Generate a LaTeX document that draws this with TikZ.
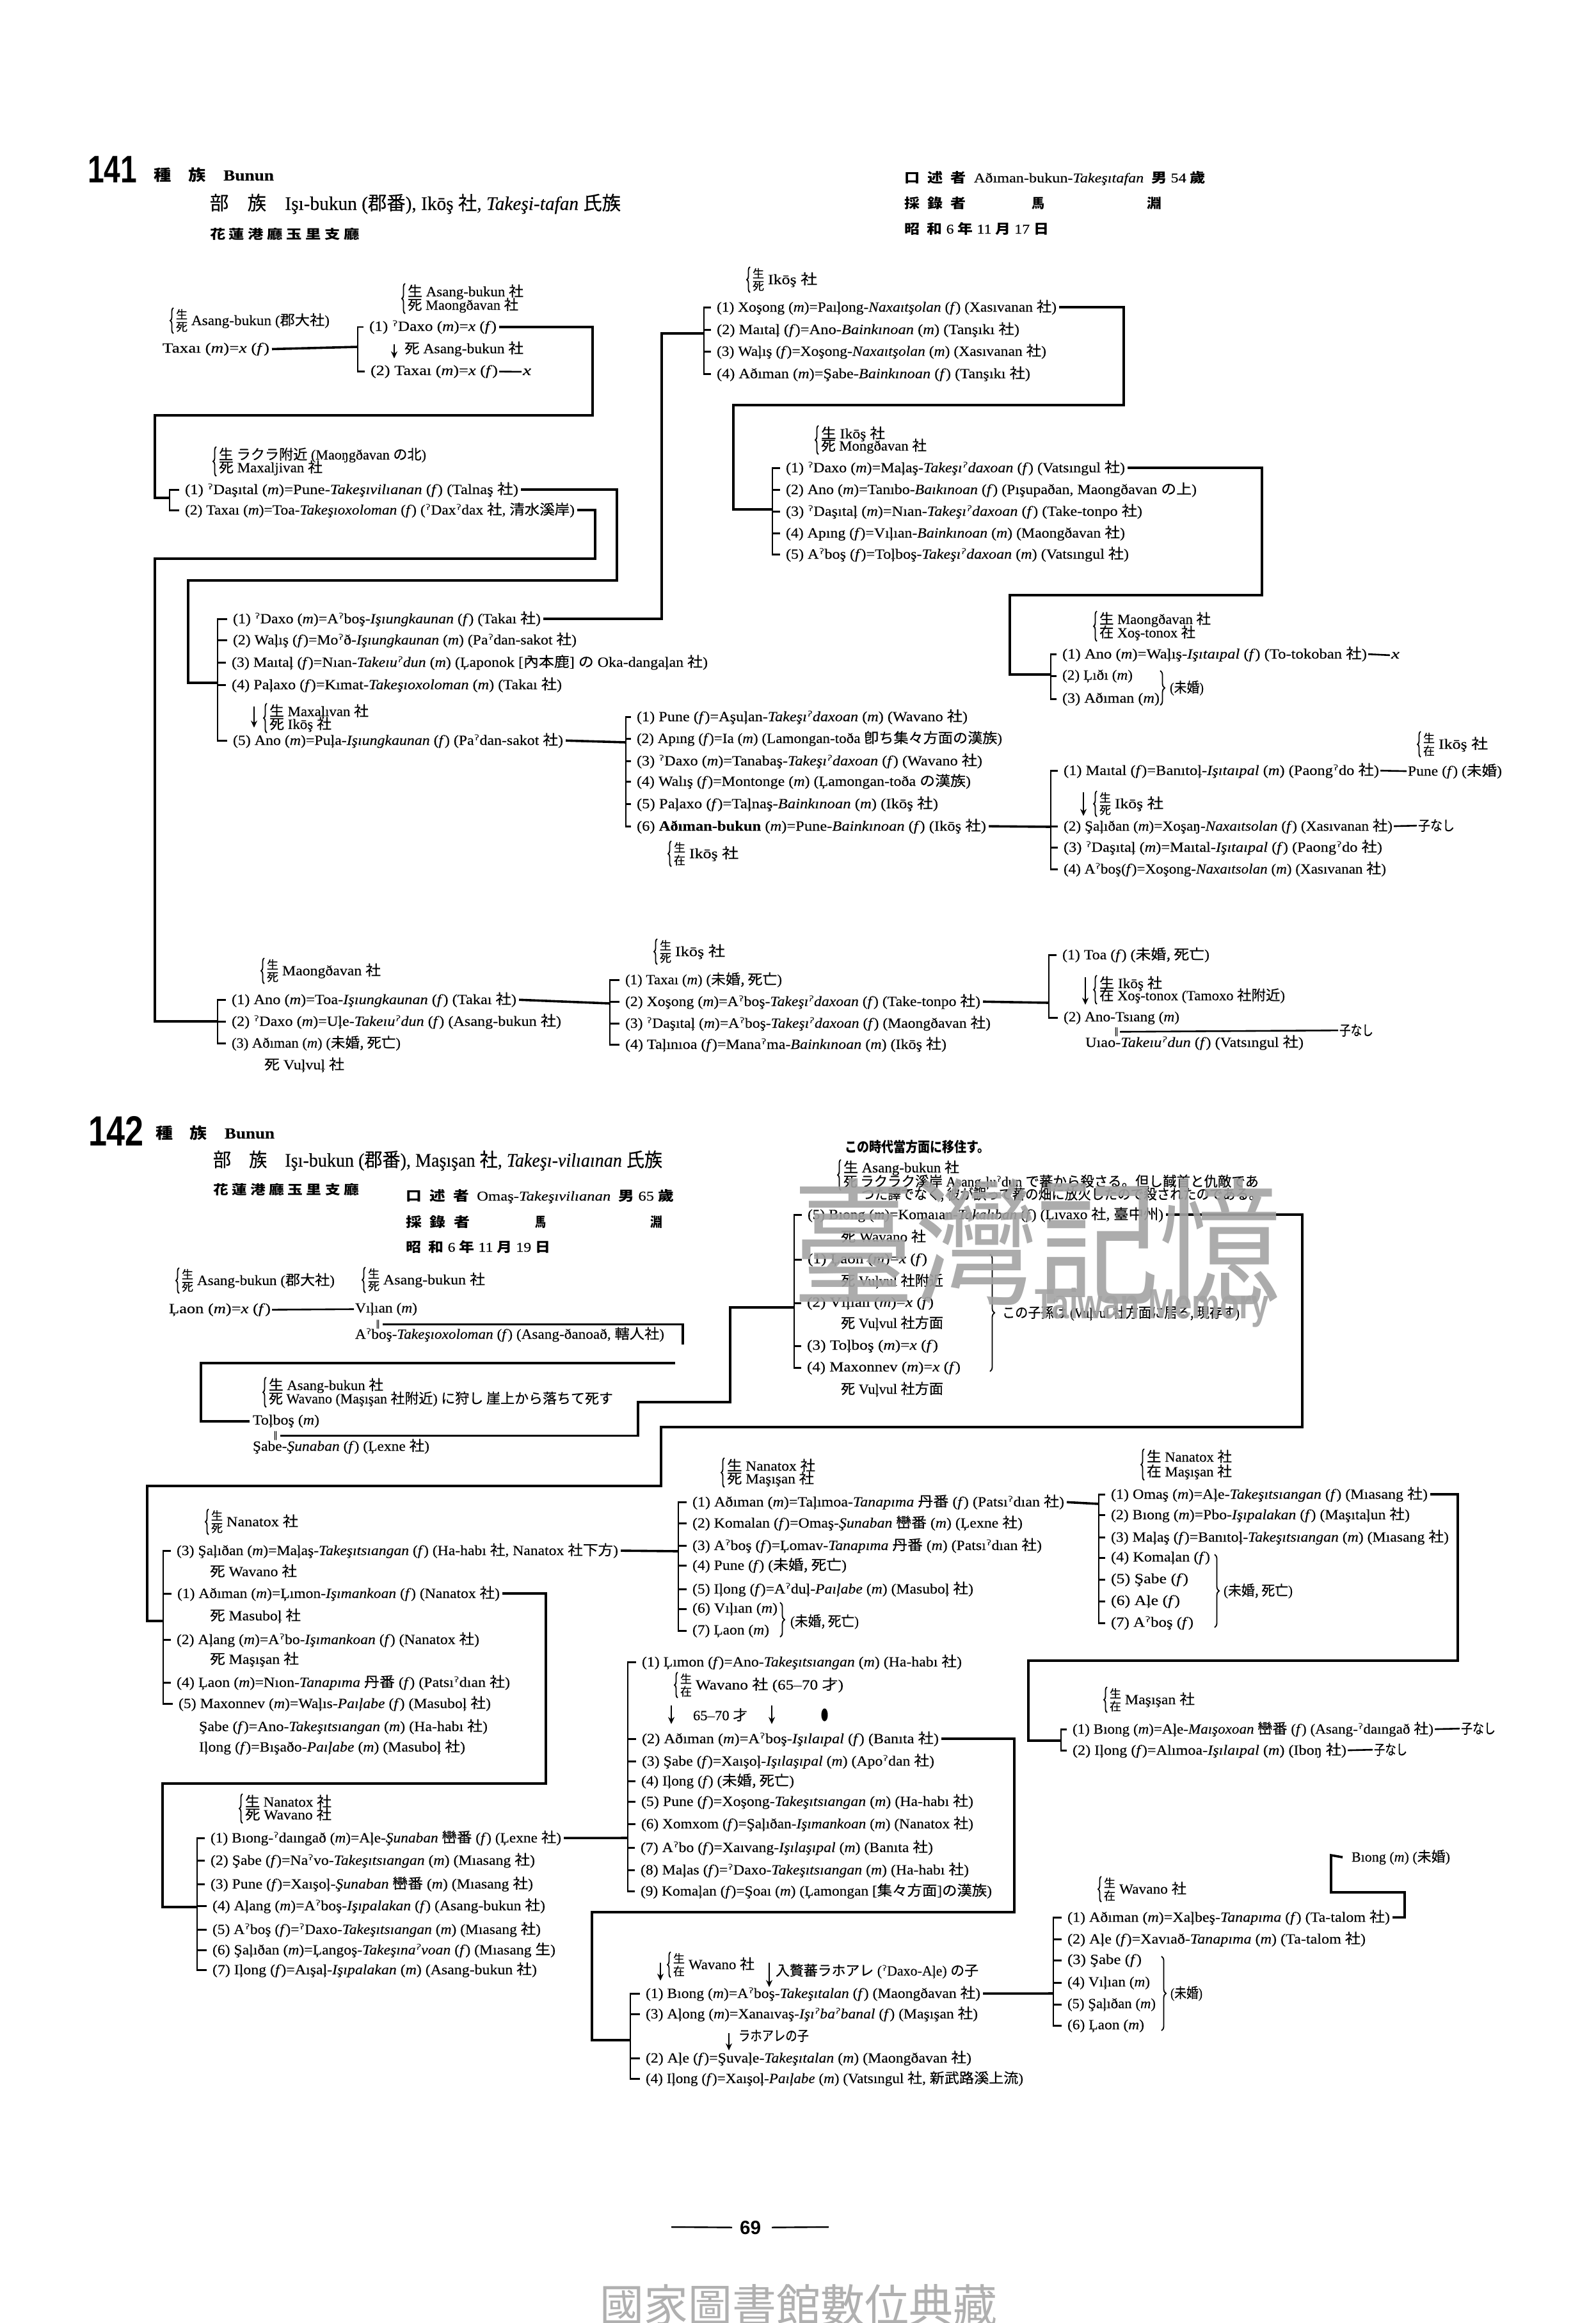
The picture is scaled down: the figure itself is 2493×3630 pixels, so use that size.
\documentclass[tikz,border=0pt]{standalone}
\usepackage{fontspec}
\usepackage{graphicx}
\setmainfont{Liberation Serif}[FakeBold=0.3]
\newfontfamily\cjk{Noto Sans CJK JP}[FakeBold=0.35]
\newfontfamily\cjp{Noto Sans CJK JP}
\newfontfamily\ipafont{DejaVu Sans}
\newfontfamily\heavyfont{Liberation Sans}
\usetikzlibrary{decorations.pathreplacing,arrows.meta}
\newcommand\fs[1]{\fontsize{#1}{#1}\selectfont}
\newcommand\cj[1]{{\cjk #1}}
\newcommand\cjb[1]{{\cjp\bfseries #1}}
\newcommand\she{{\cjk 社}}
\newcommand\gs{{\ipafont ˀ}}
\newcommand\pM{(\textit{m})}
\newcommand\pF{(\textit{f})}
\newcommand\tk[1]{\textit{#1}}
\newcommand\twopb{}
\tikzset{
  txt/.style={anchor=base west,inner sep=0pt,outer sep=0pt,yshift=-7pt,font=\fs{22}\rmfamily,text=black},
  stk/.style={anchor=center,inner sep=0pt,outer sep=0pt,font=\fs{18}\cjk,text=black},
  conn/.style={draw=black,line width=3.6pt,line join=miter,shorten <=4pt},
  thinc/.style={draw=black,line width=2.6pt,shorten <=2pt,shorten >=2pt},
  brk/.style={draw=black,line width=2.8pt,line join=miter},
  lbr/.style={draw=black,line width=1.8pt,decorate,decoration={brace,amplitude=5pt}},
  rbr/.style={draw=black,line width=1.8pt,decorate,decoration={brace,amplitude=7pt}},
  arr/.style={draw=black,line width=2.8pt,-{Stealth[length=11pt,width=10pt]}},
}
\newcommand\rw[5]{\node[txt] (#1) at (#2,#3) {\resizebox{\the\numexpr#4-(#2)\relax pt}{\height}{#5}};}
\newcommand\onep[7]{%
  \draw[lbr] ({#2+7},{#3+20}) -- ({#2+7},{#3-20});
  \node[stk] (#1a) at ({#2+20},{#3-10}) {#4};
  \node[stk] (#1b) at ({#2+20},{#3+10}) {#5};
  \rw{#1c}{#2+35}{#3}{#6}{#7}}
\newcommand\twop[9]{%
  \draw[lbr] ({#2+7},{#7+13}) -- ({#2+7},{#3-13});
  \rw{#1t}{#2+11}{#3}{#5}{\cj{#4} #6}
  \rw{#1b}{#2+11}{#7}{#9}{\twopb}}
\newcommand\darr[4]{\coordinate (#1s) at (#2,#3); \coordinate (#1e) at (#2,#4); \draw[arr] (#1s) -- (#1e);}
\newcommand\bk[2]{\foreach \rr in {#2} {\draw[brk] (#1) |- ([xshift=-9pt]\rr.west);}}
\begin{document}
\begin{tikzpicture}[x=1pt,y=-1pt]
\useasboundingbox (0,0) rectangle (2493,3630);
\fill[white] (0,0) rectangle (2493,3630);
%% ---------- 141 header
\node[txt,yshift=-14pt] (h141) at (137,264) {\resizebox{77pt}{\height}{\fs{60}\heavyfont\bfseries 141}};
\rw{h141b}{240}{275}{428}{\fs{24}\cjb{種}\quad\cjb{族}\quad\textbf{Bunun}}
\rw{h141c}{328}{321}{970}{\fs{30}\cj{部}\quad\cj{族}\quad Işı-bukun (\cj{郡番}), Ikōş \she, \tk{Takeşi-tafan} \cj{氏族}}
\rw{h141d}{328}{366}{562}{\fs{20}\cjb{花 蓮 港 廳 玉 里 支 廳}}
\rw{h141e}{1413}{278}{1884}{\fs{21}\cjb{口}\enspace\cjb{述}\enspace\cjb{者}\enspace Aðıman-bukun-\tk{Takeşıtafan}\enspace\cjb{男} 54 \cjb{歲}}
\rw{h141f}{1413}{318}{1509}{\fs{21}\cjb{採}\enspace\cjb{錄}\enspace\cjb{者}}
\rw{h141g}{1612}{318}{1632}{\fs{21}\cjb{馬}}
\rw{h141h}{1792}{318}{1815}{\fs{21}\cjb{淵}}
\rw{h141i}{1413}{358}{1639}{\fs{21}\cjb{昭}\enspace\cjb{和} 6 \cjb{年} 11 \cjb{月} 17 \cjb{日}}
%% ---------- group A
\onep{a0}{264}{501}{生}{死}{515}{Asang-bukun (\cj{郡大社})}
\rw{a1}{254}{544}{421}{Taxaı \pM=\tk{x} \pF}
\coordinate (bkA) at (559,542);
\renewcommand\twopb{\cj{死} Maongðavan \she}
\twop{a2}{626}{456}{生}{818}{Asang-bukun \she}{477}{}{810}
\rw{a3}{577}{510}{776}{(1) \gs Daxo \pM=\tk{x} \pF}
\darr{aa}{616}{538}{560}
\rw{a4}{632}{545}{818}{\cj{死} Asang-bukun \she}
\rw{a5}{579}{579}{778}{(2) Taxaı \pM=\tk{x} \pF}
\rw{a6}{817}{579}{830}{\tk{x}}
\draw[conn] (a1.east) -- (bkA);
\bk{bkA}{a3,a5}
\draw[thinc] (a5.east) -- (a6.west);
%% ---------- group B
\renewcommand\twopb{\cj{死} Maxaljivan \she}
\twop{b0}{331}{711}{生}{666}{\cj{ラクラ附近} (Maoŋgðavan \cj{の北})}{731}{}{504}
\coordinate (bkB) at (265,778);
\rw{b1}{289}{765}{810}{(1) \gs Daşıtal \pM=Pune-\tk{Takeşıvilıanan} \pF\ (Talnaş \she)}
\rw{b2}{289}{797}{898}{(2) Taxaı \pM=Toa-\tk{Takeşıoxoloman} \pF\ (\gs Dax\gs dax \she, \cj{清水溪岸})}
\bk{bkB}{b1,b2}
\draw[conn] (a3.east) -| (926,649) -| (242,778) -- (bkB);
%% ---------- group C
\coordinate (bkC) at (340,1067);
\rw{c1}{364}{967}{845}{(1) \gs Daxo \pM=A\gs boş-\tk{Işıungkaunan} \pF\ (Takaı \she)}
\rw{c2}{364}{1000}{901}{(2) Waļış \pF=Mo\gs ð-\tk{Işıungkaunan} \pM\ (Pa\gs dan-sakot \she)}
\rw{c3}{362}{1035}{1106}{(3) Maıtaļ \pF=Nıan-\tk{Takeıu\gs dun} \pM\ (Ļaponok [\cj{內本鹿}] \cj{の} Oka-dangaļan \she)}
\rw{c4}{362}{1070}{878}{(4) Paļaxo \pF=Kımat-\tk{Takeşıoxoloman} \pM\ (Takaı \she)}
\darr{cc}{397}{1104}{1137}
\renewcommand\twopb{\cj{死} Ikōş \she}
\twop{c6}{410}{1112}{生}{576}{Maxaļıvan \she}{1132}{}{518}
\rw{c5}{364}{1157}{880}{(5) Ano \pM=Puļa-\tk{Işıungkaunan} \pF\ (Pa\gs dan-sakot \she)}
\bk{bkC}{c1,c2,c3,c4,c5}
\draw[conn] (b1.east) -| (964,907) -| (294,1067) -- (bkC);
%% ---------- group D
\coordinate (bkD) at (340,1596);
\onep{d0}{406}{1517}{生}{死}{595}{Maongðavan \she}
\rw{d1}{362}{1562}{807}{(1) Ano \pM=Toa-\tk{Işıungkaunan} \pF\ (Takaı \she)}
\rw{d2}{362}{1596}{877}{(2) \gs Daxo \pM=Uļe-\tk{Takeıu\gs dun} \pF\ (Asang-bukun \she)}
\rw{d3}{362}{1630}{626}{(3) Aðıman \pM\ (\cj{未婚, 死亡})}
\rw{d4}{413}{1664}{538}{\cj{死} Vuļvuļ \she}
\bk{bkD}{d1,d2,d3}
\draw[conn] (b2.east) -| (930,873) -| (242,1596) -- (bkD);
%% ---------- group E
\coordinate (bkE) at (1100,521);
\onep{e0}{1165}{437}{生}{死}{1277}{Ikōş \she}
\rw{e1}{1120}{480}{1651}{(1) Xoşong \pM=Paıļong-\tk{Naxaıtşolan} \pF\ (Xasıvanan \she)}
\rw{e2}{1120}{515}{1593}{(2) Maıtaļ \pF=Ano-\tk{Bainkınoan} \pM\ (Tanşıkı \she)}
\rw{e3}{1120}{549}{1635}{(3) Waļış \pF=Xoşong-\tk{Naxaıtşolan} \pM\ (Xasıvanan \she)}
\rw{e4}{1120}{584}{1610}{(4) Aðıman \pM=Şabe-\tk{Bainkınoan} \pF\ (Tanşıkı \she)}
\bk{bkE}{e1,e2,e3,e4}
\draw[conn] (c1.east) -| (1034,521) -- (bkE);
%% ---------- group F
\coordinate (bkF) at (1207,796);
\renewcommand\twopb{\cj{死} Mongðavan \she}
\twop{f0}{1272}{678}{生}{1383}{Ikōş \she}{697}{}{1448}
\rw{f1}{1228}{731}{1758}{(1) \gs Daxo \pM=Maļaş-\tk{Takeşı\gs daxoan} \pF\ (Vatsıngul \she)}
\rw{f2}{1228}{765}{1870}{(2) Ano \pM=Tanıbo-\tk{Baıkınoan} \pF\ (Pışupaðan, Maongðavan \cj{の上})}
\rw{f3}{1228}{799}{1785}{(3) \gs Daşıtaļ \pM=Nıan-\tk{Takeşı\gs daxoan}\ \pF\ (Take-tonpo \she)}
\rw{f4}{1228}{833}{1758}{(4) Apıng \pF=Vıļıan-\tk{Bainkınoan} \pM\ (Maongðavan \she)}
\rw{f5}{1228}{866}{1764}{(5) A\gs boş \pF=Toļboş-\tk{Takeşı\gs daxoan} \pM\ (Vatsıngul \she)}
\bk{bkF}{f1,f2,f3,f4,f5}
\draw[conn] (e1.east) -| (1756,633) -| (1146,796) -- (bkF);
%% ---------- group G
\coordinate (bkG) at (1642,1054);
\renewcommand\twopb{\cj{在} Xoş-tonox \she}
\twop{g0}{1707}{968}{生}{1892}{Maongðavan \she}{989}{}{1868}
\rw{g1}{1660}{1022}{2136}{(1) Ano \pM=Waļış-\tk{Işıtaıpal} \pF\ (To-tokoban \she)}
\rw{g1x}{2174}{1022}{2187}{\tk{x}}
\rw{g2}{1660}{1055}{1770}{(2) Ļıðı \pM}
\rw{g3}{1660}{1091}{1812}{(3) Aðıman \pM}
\draw[rbr] (1813,1048) -- (1813,1102);
\rw{g4}{1828}{1075}{1881}{(\cj{未婚})}
\bk{bkG}{g1,g2,g3}
\draw[thinc] (g1.east) -- (g1x.west);
\draw[conn] (f1.east) -| (1972,930) -| (1578,1054) -- (bkG);
%% ---------- group H
\coordinate (bkH) at (978,1160);
\rw{h1}{995}{1120}{1512}{(1) Pune \pF=Aşuļan-\tk{Takeşı\gs daxoan} \pM\ (Wavano \she)}
\rw{h2}{995}{1154}{1566}{(2) Apıng \pF=Ia \pM\ (Lamongan-toða \cj{卽ち集々方面の漢族})}
\rw{h3}{995}{1189}{1535}{(3) \gs Daxo \pM=Tanabaş-\tk{Takeşı\gs daxoan} \pF\ (Wavano \she)}
\rw{h4}{995}{1221}{1517}{(4) Walış \pF=Montonge \pM\ (Ļamongan-toða \cj{の漢族})}
\rw{h5}{995}{1256}{1466}{(5) Paļaxo \pF=Taļnaş-\tk{Bainkınoan} \pM\ (Ikōş \she)}
\rw{h6}{995}{1291}{1541}{(6) \textbf{Aðıman-bukun} \pM=Pune-\tk{Bainkınoan} \pF\ (Ikōş \she)}
\onep{h0}{1042}{1334}{生}{在}{1154}{Ikōş \she}
\bk{bkH}{h1,h2,h3,h4,h5,h6}
\draw[conn] (c5.east) -- (bkH);
%% ---------- group I
\coordinate (bkI) at (1642,1292);
\onep{i0}{2213}{1163}{生}{在}{2325}{Ikōş \she}
\rw{i1}{1662}{1204}{2155}{(1) Maıtal \pF=Banıtoļ-\tk{Işıtaıpal} \pM\ (Paong\gs do \she)}
\rw{i1x}{2200}{1205}{2347}{Pune \pF\ (\cj{未婚})}
\darr{ia}{1693}{1238}{1275}
\onep{i5}{1707}{1256}{生}{死}{1818}{Ikōş \she}
\rw{i2}{1662}{1291}{2176}{(2) Şaļıðan \pM=Xoşaŋ-\tk{Naxaıtsolan} \pF\ (Xasıvanan \she)}
\rw{i2x}{2216}{1291}{2273}{\cj{子なし}}
\rw{i3}{1662}{1324}{2160}{(3) \gs Daşıtaļ \pM=Maıtal-\tk{Işıtaıpal} \pF\ (Paong\gs do \she)}
\rw{i4}{1662}{1358}{2166}{(4) A\gs boş\pF=Xoşong-\tk{Naxaıtsolan} \pM\ (Xasıvanan \she)}
\bk{bkI}{i1,i2,i3,i4}
\draw[thinc] (i1.east) -- (i1x.west);
\draw[thinc] (i2.east) -- (i2x.west);
\draw[conn] (h6.east) -- (bkI);
%% ---------- group J
\coordinate (bkJ) at (953,1568);
\onep{j0}{1020}{1487}{生}{死}{1133}{Ikōş \she}
\rw{j1}{977}{1531}{1222}{(1) Taxaı \pM\ (\cj{未婚, 死亡})}
\rw{j2}{977}{1565}{1532}{(2) Xoşong \pM=A\gs boş-\tk{Takeşı\gs daxoan} \pF\ (Take-tonpo \she)}
\rw{j3}{977}{1599}{1548}{(3) \gs Daşıtaļ \pM=A\gs boş-\tk{Takeşı\gs daxoan} \pF\ (Maongðavan \she)}
\rw{j4}{977}{1632}{1479}{(4) Taļınıoa \pF=Mana\gs ma-\tk{Bainkınoan} \pM\ (Ikōş \she)}
\bk{bkJ}{j1,j2,j3,j4}
\draw[conn] (d1.east) -- (bkJ);
%% ---------- group K
\coordinate (bkK) at (1639,1567);
\rw{k1}{1660}{1492}{1890}{(1) Toa \pF\ (\cj{未婚, 死亡})}
\darr{ka}{1696}{1527}{1570}
\renewcommand\twopb{\cj{在} Xoş-tonox (Tamoxo \cj{社附近})}
\twop{k0}{1707}{1537}{生}{1816}{Ikōş \she}{1556}{}{2008}
\rw{k2}{1662}{1589}{1843}{(2) Ano-Tsıang \pM}
\node[txt,font=\fs{14}\ipafont] (k3) at (1741,1609) {‖};
\rw{k4}{2093}{1611}{2146}{\cj{子なし}}
\rw{k5}{1696}{1629}{2037}{Uıao-\tk{Takeıu\gs dun} \pF\ (Vatsıngul \she)}
\bk{bkK}{k1,k2}
\draw[thinc] (k3.east) -- (k4.west);
\draw[conn] (j2.east) -- (bkK);
%% ---------- 142 header
\node[txt,yshift=-16pt] (h142) at (138,1767) {\resizebox{87pt}{\height}{\fs{66}\heavyfont\bfseries 142}};
\rw{h142b}{243}{1772}{429}{\fs{24}\cjb{種}\quad\cjb{族}\quad\textbf{Bunun}}
\rw{h142c}{333}{1816}{1035}{\fs{30}\cj{部}\quad\cj{族}\quad Işı-bukun (\cj{郡番}), Maşışan \she, \tk{Takeşı-vilıaınan} \cj{氏族}}
\rw{h142d}{333}{1859}{561}{\fs{20}\cjb{花 蓮 港 廳 玉 里 支 廳}}
\rw{h142e}{634}{1869}{1053}{\fs{21}\cjb{口}\enspace\cjb{述}\enspace\cjb{者}\enspace Omaş-\tk{Takeşıvilıanan}\enspace\cjb{男} 65 \cjb{歲}}
\rw{h142f}{634}{1910}{734}{\fs{21}\cjb{採}\enspace\cjb{錄}\enspace\cjb{者}}
\rw{h142g}{836}{1910}{853}{\fs{21}\cjb{馬}}
\rw{h142h}{1016}{1910}{1035}{\fs{21}\cjb{淵}}
\rw{h142i}{634}{1949}{860}{\fs{21}\cjb{昭}\enspace\cjb{和} 6 \cjb{年} 11 \cjb{月} 19 \cjb{日}}
%% ---------- group L (142 start)
\onep{l0}{273}{2001}{生}{死}{523}{Asang-bukun (\cj{郡大社})}
\onep{l1}{564}{2000}{生}{死}{758}{Asang-bukun \she}
\rw{l2}{264}{2045}{423}{Ļaon \pM=\tk{x} \pF}
\rw{l3}{555}{2044}{652}{Vıļıan \pM}
\node[txt,font=\fs{14}\ipafont] (l4) at (587,2066) {‖};
\rw{l5}{555}{2085}{1038}{A\gs boş-\tk{Takeşıoxoloman} \pF\ (Asang-ðanoað, \cj{轄人社})}
\draw[thinc] (l2.east) -- (l3.west);
\coordinate (l6) at (1067,2101);
\draw[conn] (l4.east) -| (l6);
\coordinate (l7) at (1059,2130);
\renewcommand\twopb{\cj{死} Wavano (Maşışan \cj{社附近}) \cj{に狩し 崖上から落ちて死す}}
\twop{m0}{409}{2165}{生}{599}{Asang-bukun \she}{2186}{}{958}
\rw{m1}{395}{2219}{499}{Toļboş \pM}
\node[txt,font=\fs{14}\ipafont] (m2) at (427,2240) {‖};
\rw{m3}{395}{2260}{671}{Şabe-\tk{Şunaban} \pF\ (Ļexne \she)}
\draw[conn] (l7) -- (314,2130) |- ([xshift=-5pt]m1.west);
%% ---------- group Q
\coordinate (bkQ) at (1241,2043);
\rw{q0}{1320}{1793}{1547}{\cjb{この時代當方面に移住す。}}
\renewcommand\twopb{\cj{死 ラクラク溪岸} Asang-ļu\gs dun \cj{で蕃から殺さる。但し馘首と仇敵であ}}
\twop{q1}{1307}{1825}{生}{1499}{Asang-bukun \she}{1847}{}{1967}
\rw{q2}{1346}{1867}{1972}{\cj{つた譯でなく, 彼が誤って蕃の畑に放火したので殺されたのである。}}
\rw{q3}{1262}{1898}{1818}{(5) Bıong \pM=Komaıan-\tk{Takalıban} \pF\ (Ļıvaxo \she, \cj{臺中州})}
\rw{q4}{1314}{1933}{1447}{\cj{死} Wavano \she}
\rw{q5}{1262}{1967}{1449}{(1) Ļaon \pM=\tk{x} \pF}
\rw{q6}{1314}{2002}{1474}{\cj{死} Vuļvul \cj{社附近}}
\rw{q7}{1261}{2035}{1459}{(2) Vıļıan \pM=\tk{x} \pF}
\rw{q8}{1314}{2068}{1474}{\cj{死} Vuļvul \cj{社方面}}
\rw{q9}{1261}{2102}{1466}{(3) Toļboş \pM=\tk{x} \pF}
\rw{q10}{1261}{2136}{1501}{(4) Maxonnev \pM=\tk{x} \pF}
\rw{q11}{1314}{2171}{1474}{\cj{死} Vuļvul \cj{社方面}}
\draw[rbr] (1547,1960) -- (1547,2143);
\rw{q12}{1566}{2052}{1937}{\cj{この子孫は} (Vuļvul \cj{社方面に居る, 現存す})}
\bk{bkQ}{q3,q5,q7,q9,q10}
\draw[conn] (m2.east) -| (997,2191) -| (1141,2043) -- (bkQ);
%% ---------- group R
\coordinate (bkR) at (255,2533);
\onep{r0}{319}{2378}{生}{死}{466}{Nanatox \she}
\rw{r1}{276}{2423}{966}{(3) Şaļıðan \pM=Maļaş-\tk{Takeşıtsıangan} \pF\ (Ha-habı \she, Nanatox \cj{社下方})}
\rw{r2}{328}{2456}{464}{\cj{死} Wavano \she}
\rw{r3}{277}{2490}{781}{(1) Aðıman \pM=Ļımon-\tk{Işımankoan} \pF\ (Nanatox \she)}
\rw{r4}{328}{2525}{470}{\cj{死} Masuboļ \she}
\rw{r5}{276}{2562}{749}{(2) Aļang \pM=A\gs bo-\tk{Işımankoan} \pF\ (Nanatox \she)}
\rw{r6}{328}{2593}{467}{\cj{死} Maşışan \she}
\rw{r7}{276}{2629}{797}{(4) Ļaon \pM=Nıon-\tk{Tanapıma} \cj{丹番} \pF\ (Patsı\gs dıan \she)}
\rw{r8}{279}{2662}{767}{(5) Maxonnev \pM=Waļıs-\tk{Paıļabe} \pF\ (Masuboļ \she)}
\rw{r9}{311}{2698}{762}{Şabe \pF=Ano-\tk{Takeşıtsıangan} \pM\ (Ha-habı \she)}
\rw{r10}{311}{2730}{727}{Iļong \pF=Bışaðo-\tk{Paıļabe} \pM\ (Masuboļ \she)}
\bk{bkR}{r1,r3,r5,r7,r8}
\draw[conn] (q3.east) -| (2035,2230) -| (1033,2322) -| (230,2533) -- (bkR);
%% ---------- group S
\coordinate (bkS) at (1060,2424);
\renewcommand\twopb{\cj{死} Maşışan \she}
\twop{s0}{1125}{2291}{生}{1274}{Nanatox \she}{2311}{}{1272}
\rw{s1}{1082}{2347}{1663}{(1) Aðıman \pM=Taļımoa-\tk{Tanapıma} \cj{丹番} \pF\ (Patsı\gs dıan \she)}
\rw{s2}{1082}{2380}{1598}{(2) Komalan \pF=Omaş-\tk{Şunaban} \cj{巒番} \pM\ (Ļexne \she)}
\rw{s3}{1082}{2415}{1628}{(3) A\gs boş \pF=Ļomav-\tk{Tanapıma} \cj{丹番} \pM\ (Patsı\gs dıan \she)}
\rw{s4}{1082}{2446}{1323}{(4) Pune \pF\ (\cj{未婚, 死亡})}
\rw{s5}{1082}{2483}{1521}{(5) Iļong \pF=A\gs duļ-\tk{Paıļabe} \pM\ (Masuboļ \she)}
\rw{s6}{1082}{2513}{1215}{(6) Vıļıan \pM}
\rw{s7}{1082}{2547}{1202}{(7) Ļaon \pM}
\draw[rbr] (1219,2504) -- (1219,2558);
\rw{s8}{1235}{2534}{1342}{(\cj{未婚, 死亡})}
\bk{bkS}{s1,s2,s3,s4,s5,s6,s7}
\draw[conn] (r1.east) -- (bkS);
%% ---------- group T
\coordinate (bkT) at (1717,2350);
\renewcommand\twopb{\cj{在} Maşışan \she}
\twop{t0}{1781}{2277}{生}{1925}{Nanatox \she}{2300}{}{1925}
\rw{t1}{1736}{2335}{2231}{(1) Omaş \pM=Aļe-\tk{Takeşıtsıangan} \pF\ (Mıasang \she)}
\rw{t2}{1736}{2367}{2203}{(2) Bıong \pM=Pbo-\tk{Işıpalakan} \pF\ (Maşıtaļun \she)}
\rw{t3}{1736}{2402}{2264}{(3) Maļaş \pF=Banıtoļ-\tk{Takeşıtsıangan} \pM\ (Mıasang \she)}
\rw{t4}{1736}{2433}{1891}{(4) Komaļan \pF}
\rw{t5}{1736}{2467}{1857}{(5) Şabe \pF}
\rw{t6}{1736}{2501}{1844}{(6) Aļe \pF}
\rw{t7}{1736}{2535}{1865}{(7) A\gs boş \pF}
\draw[rbr] (1898,2429) -- (1898,2543);
\rw{t8}{1912}{2486}{2020}{(\cj{未婚, 死亡})}
\bk{bkT}{t1,t2,t3,t4,t5,t6,t7}
\draw[conn] (s1.east) -- (bkT);
%% ---------- group U
\coordinate (bkU) at (1658,2720);
\onep{u0}{1723}{2656}{生}{在}{1867}{Maşışan \she}
\rw{u1}{1676}{2702}{2240}{(1) Bıong \pM=Aļe-\tk{Maışoxoan} \cj{巒番} \pF\ (Asang-\gs daıngað \she)}
\rw{u1x}{2283}{2702}{2337}{\cj{子なし}}
\rw{u2}{1676}{2735}{2104}{(2) Iļong \pF=Alımoa-\tk{Işılaıpal} \pM\ (Iboŋ \she)}
\rw{u2x}{2147}{2735}{2199}{\cj{子なし}}
\bk{bkU}{u1,u2}
\draw[thinc] (u1.east) -- (u1x.west);
\draw[thinc] (u2.east) -- (u2x.west);
\draw[conn] (t1.east) -| (2278,2595) -| (1607,2720) -- (bkU);
%% ---------- group V
\coordinate (bkVb) at (308,2980);
\renewcommand\twopb{\cj{死} Wavano \she}
\twop{v0}{372}{2816}{生}{518}{Nanatox \she}{2836}{}{518}
\rw{v1}{329}{2872}{877}{(1) Bıong-\gs daıngað \pM=Aļe-\tk{Şunaban} \cj{巒番} \pF\ (Ļexne \she)}
\rw{v2}{329}{2907}{836}{(2) Şabe \pF=Na\gs vo-\tk{Takeşıtsıangan} \pM\ (Mıasang \she)}
\rw{v3}{329}{2944}{833}{(3) Pune \pF=Xaışoļ-\tk{Şunaban} \cj{巒番} \pM\ (Mıasang \she)}
\rw{v4}{332}{2978}{852}{(4) Aļang \pM=A\gs boş-\tk{Işıpalakan} \pF\ (Asang-bukun \she)}
\rw{v5}{332}{3015}{845}{(5) A\gs boş \pF=\gs Daxo-\tk{Takeşıtsıangan} \pM\ (Mıasang \she)}
\rw{v6}{332}{3047}{868}{(6) Şaļıðan \pM=Ļangoş-\tk{Takeşına\gs voan} \pF\ (Mıasang \cj{生})}
\rw{v7}{332}{3078}{839}{(7) Iļong \pF=Aışaļ-\tk{Işıpalakan} \pM\ (Asang-bukun \she)}
\bk{bkVb}{v1,v2,v3,v4,v5,v6,v7}
\draw[conn] (r3.east) -| (853,2787) -| (254,2980) -- (bkVb);
%% ---------- group W
\coordinate (bkW) at (981,2872);
\rw{w1}{1003}{2597}{1503}{(1) Ļımon \pF=Ano-\tk{Takeşıtsıangan} \pM\ (Ha-habı \she)}
\onep{w0}{1052}{2633}{生}{在}{1318}{Wavano \she\ (65--70 \cj{才})}
\darr{wa}{1049}{2665}{2694}
\rw{wb}{1083}{2681}{1168}{65--70 \cj{才}}
\darr{wc}{1206}{2665}{2694}
\rw{wd}{1283}{2681}{1294}{\cj{●}}
\rw{w2}{1003}{2717}{1467}{(2) Aðıman \pM=A\gs boş-\tk{Işılaıpal} \pF\ (Banıta \she)}
\rw{w3}{1003}{2752}{1460}{(3) Şabe \pF=Xaışoļ-\tk{Işılaşıpal} \pM\ (Apo\gs dan \she)}
\rw{w4}{1002}{2783}{1241}{(4) Iļong \pF\ (\cj{未婚, 死亡})}
\rw{w5}{1002}{2815}{1521}{(5) Pune \pF=Xoşong-\tk{Takeşıtsıangan} \pM\ (Ha-habı \she)}
\rw{w6}{1002}{2850}{1521}{(6) Xomxom \pF=Şaļıðan-\tk{Işımankoan} \pM\ (Nanatox \she)}
\rw{w7}{1001}{2887}{1458}{(7) A\gs bo \pF=Xaıvang-\tk{Işılaşıpal} \pM\ (Banıta \she)}
\rw{w8}{1001}{2922}{1514}{(8) Maļas \pF=\gs Daxo-\tk{Takeşıtsıangan} \pM\ (Ha-habı \she)}
\rw{w9}{1001}{2955}{1550}{(9) Komaļan \pF=Şoaı \pM\ (Ļamongan [\cj{集々方面}]\cj{の漢族})}
\bk{bkW}{w1,w2,w3,w4,w5,w6,w7,w8,w9}
\draw[conn] (v1.east) -- (bkW);
%% ---------- group X
\coordinate (bkX) at (985,3188);
\darr{xa}{1032}{3067}{3095}
\onep{x0}{1041}{3070}{生}{在}{1179}{Wavano \she}
\darr{xb}{1202}{3067}{3105}
\rw{x5}{1212}{3080}{1529}{\cj{入贅蕃ラホアレ} (\gs Daxo-Aļe) \cj{の子}}
\rw{x1}{1009}{3115}{1532}{(1) Bıong \pM=A\gs boş-\tk{Takeşıtalan} \pF\ (Maongðavan \she)}
\rw{x3}{1009}{3147}{1528}{(3) Aļong \pM=Xanaıvaş-\tk{Işı\gs ba\gs banal} \pF\ (Maşışan \she)}
\darr{xc}{1139}{3177}{3204}
\rw{x6}{1154}{3182}{1264}{\cj{ラホアレの子}}
\rw{x2}{1009}{3216}{1518}{(2) Aļe \pF=Şuvaļe-\tk{Takeşıtalan} \pM\ (Maongðavan \she)}
\rw{x4}{1009}{3248}{1599}{(4) Iļong \pF=Xaışoļ-\tk{Paıļabe} \pM\ (Vatsıngul \she, \cj{新武路溪上流})}
\bk{bkX}{x1,x3,x2,x4}
\draw[conn] (w2.east) -| (1585,2988) -| (925,3188) -- (bkX);
%% ---------- group Y
\coordinate (bkY) at (1646,3115);
\onep{y0}{1714}{2952}{生}{在}{1854}{Wavano \she}
\rw{y1}{1668}{2996}{2172}{(1) Aðıman \pM=Xaļbeş-\tk{Tanapıma} \pF\ (Ta-talom \she)}
\rw{y2}{1668}{3030}{2134}{(2) Aļe \pF=Xavıað-\tk{Tanapıma} \pM\ (Ta-talom \she)}
\rw{y3}{1668}{3062}{1784}{(3) Şabe \pF}
\rw{y4}{1668}{3097}{1797}{(4) Vıļıan \pM}
\rw{y5}{1668}{3131}{1806}{(5) Şaļıðan \pM}
\rw{y6}{1668}{3164}{1788}{(6) Ļaon \pM}
\draw[rbr] (1815,3057) -- (1815,3173);
\rw{y7}{1829}{3115}{1879}{(\cj{未婚})}
\rw{y8}{2112}{2902}{2266}{Bıong \pM\ (\cj{未婚})}
\bk{bkY}{y1,y2,y3,y4,y5,y6}
\draw[conn] (x1.east) -- (bkY);
\draw[conn] (y1.east) -| (2195,2957) -| (2080,2899) -- ([xshift=-14pt]y8.west);
%% ---------- page number and stamps
\coordinate (pn1) at (1049,3480);
\coordinate (pn2) at (1295,3480);
\node[txt,font=\fs{30}\heavyfont\bfseries,yshift=-4pt] (pn) at (1156,3480) {\resizebox{33pt}{\height}{69}};
\draw[brk,line width=2.4pt] (pn1) -- ([xshift=-12pt]pn.west);
\draw[brk,line width=2.4pt] ([xshift=17pt]pn.east) -- (pn2);
\node[anchor=base west,inner sep=0pt,text=gray!62,font=\fs{70}\cjp] (stamp) at (937,3628) {\resizebox{621pt}{\height}{國家圖書館數位典藏}};
%% ---------- watermark
\node[anchor=base west,inner sep=0pt,text=gray!72,opacity=.9,font=\fs{215}\cjp] (wm) at (1238,2022) {\resizebox{764pt}{\height}{臺灣記憶}};
\node[anchor=base west,inner sep=0pt,text=gray!72,opacity=.9,font=\fs{66}\heavyfont\bfseries] (wm2) at (1617,2060) {\resizebox{366pt}{\height}{Taiwan Memory}};
\end{tikzpicture}
\end{document}
